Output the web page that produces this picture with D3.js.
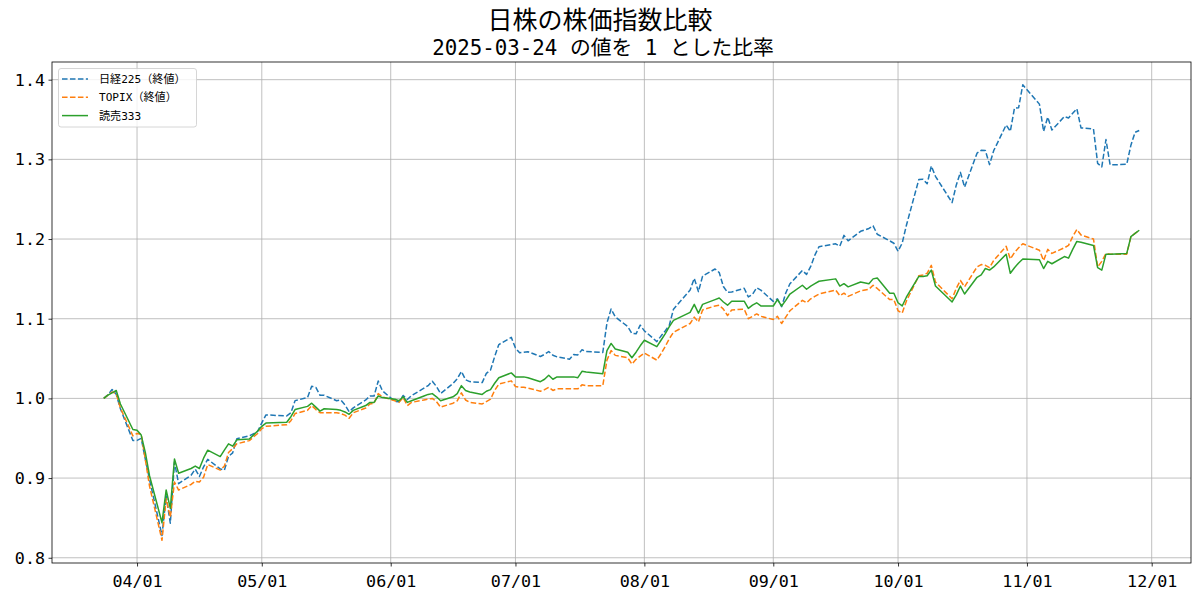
<!DOCTYPE html>
<html>
<head>
<meta charset="utf-8">
<script src="https://cdn.jsdelivr.net/npm/d3@7"></script>
<style>
  body { margin: 0; background: #fff; }
  text { font-family: "DejaVu Sans Mono", "Noto Sans CJK JP", monospace; fill: #000; text-spacing-trim: space-all; }
</style>
</head>
<body>
<div id="chart"></div>
<script>
// trading days (2025)
var days = [
  "03-24","03-25","03-26","03-27","03-28","03-31",
  "04-01","04-02","04-03","04-04","04-07","04-08","04-09","04-10","04-11","04-14","04-15","04-16","04-17","04-18","04-21","04-22","04-23","04-24","04-25","04-28","04-30",
  "05-01","05-02","05-07","05-08","05-09","05-12","05-13","05-14","05-15","05-16","05-19","05-20","05-21","05-22","05-23","05-26","05-27","05-28","05-29","05-30",
  "06-02","06-03","06-04","06-05","06-06","06-09","06-10","06-11","06-12","06-13","06-16","06-17","06-18","06-19","06-20","06-23","06-24","06-25","06-26","06-27","06-30",
  "07-01","07-02","07-03","07-04","07-07","07-08","07-09","07-10","07-11","07-14","07-15","07-16","07-17","07-18","07-22","07-23","07-24","07-25","07-28","07-29","07-30","07-31",
  "08-01","08-04","08-05","08-06","08-07","08-08","08-12","08-13","08-14","08-15","08-18","08-19","08-20","08-21","08-22","08-25","08-26","08-27","08-28","08-29",
  "09-01","09-02","09-03","09-04","09-05","09-08","09-09","09-10","09-11","09-12","09-16","09-17","09-18","09-19","09-22","09-24","09-25","09-26","09-29","09-30",
  "10-01","10-02","10-03","10-06","10-07","10-08","10-09","10-10","10-14","10-15","10-16","10-17","10-20","10-21","10-22","10-23","10-24","10-27","10-28","10-29","10-30","10-31",
  "11-04","11-05","11-06","11-07","11-10","11-11","11-12","11-13","11-14","11-17","11-18","11-19","11-20","11-21","11-25","11-26","11-27","11-28"
];

var nikkei = [
  1.0000,1.0046,1.0111,1.0051,0.9870,0.9471,
  0.9473,0.9499,0.9236,0.8982,0.8279,0.8778,0.8433,0.9202,0.8930,0.9036,0.9112,0.9019,0.9141,0.9235,0.9115,0.9099,0.9271,0.9317,0.9494,0.9530,0.9584,
  0.9693,0.9793,0.9780,0.9819,0.9972,1.0010,1.0153,1.0138,1.0039,1.0039,0.9971,0.9979,0.9918,0.9834,0.9881,0.9980,1.0031,1.0030,1.0219,1.0095,
  0.9963,0.9957,1.0037,0.9986,1.0035,1.0128,1.0160,1.0216,1.0150,1.0060,1.0187,1.0247,1.0339,1.0234,1.0211,1.0198,1.0314,1.0355,1.0525,1.0676,1.0766,
  1.0632,1.0573,1.0579,1.0586,1.0526,1.0553,1.0588,1.0542,1.0521,1.0492,1.0550,1.0546,1.0610,1.0588,1.0576,1.0947,1.1122,1.1023,1.0901,1.0815,1.0810,1.0920,
  1.0848,1.0713,1.0782,1.0847,1.0918,1.1120,1.1359,1.1507,1.1340,1.1534,1.1624,1.1579,1.1404,1.1330,1.1336,1.1382,1.1273,1.1306,1.1388,1.1359,
  1.1218,1.1250,1.1151,1.1322,1.1439,1.1605,1.1556,1.1656,1.1799,1.1904,1.1940,1.1910,1.2046,1.1978,1.2097,1.2133,1.2166,1.2060,1.1977,1.1947,
  1.1846,1.1949,1.2170,1.2748,1.2750,1.2693,1.2917,1.2787,1.2457,1.2676,1.2837,1.2652,1.3078,1.3113,1.3111,1.2934,1.3109,1.3431,1.3353,1.3643,1.3648,1.3936,
  1.3693,1.3351,1.3530,1.3368,1.3537,1.3519,1.3578,1.3636,1.3395,1.3381,1.2950,1.2906,1.3248,1.2930,1.2938,1.3178,1.3339,1.3362
];

var topix = [
  1.000,1.004,1.008,1.006,0.988,0.953,
  0.956,0.955,0.923,0.890,0.822,0.874,0.851,0.895,0.885,0.892,0.896,0.895,0.901,0.917,0.910,0.915,0.932,0.937,0.943,0.947,0.956,
  0.962,0.965,0.967,0.972,0.981,0.985,0.991,0.986,0.982,0.982,0.982,0.981,0.979,0.975,0.982,0.988,0.993,0.994,1.006,1.002,
  0.997,0.995,1.001,0.991,0.995,0.998,0.999,1.000,0.996,0.989,0.994,0.997,1.007,0.998,0.995,0.993,0.996,0.999,1.010,1.018,1.022,
  1.015,1.014,1.014,1.013,1.009,1.011,1.014,1.010,1.012,1.012,1.012,1.012,1.017,1.016,1.016,1.048,1.060,1.054,1.051,1.043,1.049,1.053,
  1.057,1.048,1.056,1.065,1.075,1.083,1.094,1.102,1.096,1.111,1.116,1.117,1.112,1.104,1.111,1.112,1.100,1.103,1.106,1.103,
  1.099,1.103,1.094,1.102,1.110,1.123,1.120,1.125,1.128,1.131,1.136,1.129,1.132,1.128,1.135,1.137,1.142,1.138,1.124,1.124,
  1.110,1.107,1.122,1.154,1.155,1.157,1.167,1.146,1.125,1.138,1.148,1.140,1.165,1.168,1.167,1.164,1.173,1.191,1.175,1.183,1.189,1.194,
  1.186,1.173,1.187,1.182,1.189,1.192,1.203,1.212,1.205,1.200,1.165,1.172,1.182,1.181,1.181,1.203,1.207,1.211
];

var yomiuri = [
  1.000,1.004,1.007,1.010,0.993,0.961,
  0.960,0.954,0.932,0.903,0.844,0.885,0.862,0.924,0.906,0.912,0.915,0.912,0.925,0.935,0.927,0.935,0.943,0.940,0.948,0.949,0.959,
  0.965,0.969,0.970,0.977,0.986,0.990,0.994,0.989,0.984,0.987,0.986,0.985,0.983,0.980,0.985,0.991,0.995,0.995,1.003,1.001,
  0.999,0.997,1.002,0.995,0.997,1.003,1.005,1.006,1.002,0.997,1.002,1.006,1.016,1.010,1.008,1.005,1.009,1.011,1.019,1.026,1.032,
  1.027,1.027,1.027,1.026,1.021,1.024,1.029,1.024,1.027,1.027,1.027,1.026,1.034,1.033,1.031,1.060,1.069,1.062,1.058,1.051,1.058,1.066,
  1.073,1.065,1.073,1.081,1.090,1.098,1.108,1.118,1.107,1.118,1.124,1.126,1.121,1.117,1.122,1.122,1.113,1.117,1.120,1.116,
  1.116,1.124,1.116,1.123,1.131,1.142,1.137,1.141,1.144,1.147,1.150,1.141,1.144,1.140,1.146,1.144,1.150,1.151,1.132,1.132,
  1.120,1.116,1.127,1.153,1.153,1.154,1.161,1.141,1.121,1.130,1.141,1.131,1.152,1.155,1.163,1.161,1.165,1.181,1.157,1.164,1.170,1.175,
  1.174,1.163,1.172,1.169,1.178,1.176,1.187,1.197,1.196,1.192,1.164,1.161,1.181,1.181,1.182,1.203,1.207,1.211
];

var seriesNames = ["日経225（終値）", "TOPIX（終値）", "読売333"];
var seriesColors = ["#1f77b4", "#ff7f0e", "#2ca02c"];
var seriesDash = ["5.55,2.4", "5.55,2.4", null];
var yTicks = [0.8, 0.9, 1.0, 1.1, 1.2, 1.3, 1.4];
var title = "日株の株価指数比較";
var subtitle = "2025-03-24 の値を 1 とした比率";

var width = 1200, height = 600;
var margin = { top: 62, right: 9, bottom: 37, left: 52 };
var innerW = width - margin.left - margin.right,
    innerH = height - margin.top - margin.bottom;

var parse = d3.timeParse("%Y-%m-%d");
var dates = days.map(d => parse("2025-" + d));

var allSeries = [nikkei, topix, yomiuri].map(function(vals, i) {
    return {
        name: seriesNames[i],
        color: seriesColors[i],
        dash: seriesDash[i],
        points: vals.map((v, j) => ({ date: dates[j], value: v }))
    };
});

// matplotlib style 5% margins
var xExt = d3.extent(dates);
var xPad = (xExt[1] - xExt[0]) * 0.05;
var x = d3.scaleTime()
    .domain([new Date(+xExt[0] - xPad), new Date(+xExt[1] + xPad)])
    .range([0, innerW]);

var allVals = nikkei.concat(topix, yomiuri);
var yExt = d3.extent(allVals);
var yPad = (yExt[1] - yExt[0]) * 0.05;
var y = d3.scaleLinear()
    .domain([yExt[0] - yPad, yExt[1] + yPad])
    .range([innerH, 0]);

var svg = d3.select("#chart").append("svg")
    .attr("width", width)
    .attr("height", height);

svg.append("text")
    .attr("x", 600).attr("y", 28.5)
    .attr("text-anchor", "middle")
    .style("font-size", "25px")
    .text(title);

svg.append("text")
    .attr("x", 603).attr("y", 55)
    .attr("text-anchor", "middle")
    .style("font-size", "20.8px")
    .text(subtitle);

var g = svg.append("g")
    .attr("transform", "translate(" + margin.left + "," + margin.top + ")");

var monthTicks = d3.timeMonth.range(new Date(2025, 3, 1), new Date(2025, 11, 2));

// grid
g.append("g").selectAll("line.vg")
    .data(monthTicks)
    .join("line")
    .attr("x1", d => x(d)).attr("x2", d => x(d))
    .attr("y1", 0).attr("y2", innerH)
    .attr("stroke", "#b0b0b0").attr("stroke-width", 0.8);

g.append("g").selectAll("line.hg")
    .data(yTicks)
    .join("line")
    .attr("x1", 0).attr("x2", innerW)
    .attr("y1", d => y(d)).attr("y2", d => y(d))
    .attr("stroke", "#b0b0b0").attr("stroke-width", 0.8);

// lines
var line = d3.line()
    .x(d => x(d.date))
    .y(d => y(d.value));

g.append("g").selectAll("path")
    .data(allSeries)
    .join("path")
    .attr("d", d => line(d.points))
    .attr("fill", "none")
    .attr("stroke", d => d.color)
    .attr("stroke-width", 1.5)
    .attr("stroke-dasharray", d => d.dash)
    .attr("stroke-linejoin", "round");

// axes
var xAxis = g.append("g")
    .attr("transform", "translate(0," + innerH + ")")
    .call(d3.axisBottom(x).tickValues(monthTicks).tickFormat(d3.timeFormat("%m/%d")).tickSize(3.5).tickPadding(3.5));

var yAxis = g.append("g")
    .call(d3.axisLeft(y).tickValues(yTicks).tickFormat(d3.format(".1f")).tickSize(3.5).tickPadding(3.5));

[xAxis, yAxis].forEach(function(a) {
    a.select(".domain").remove();
    a.selectAll(".tick line").attr("stroke", "#000").attr("stroke-width", 0.8);
    a.selectAll(".tick text")
        .style("font-size", "16.7px")
        .attr("font-family", null);
    a.attr("font-family", null).attr("font-size", null);
});
xAxis.selectAll(".tick text").attr("dy", "1em");

g.append("rect")
    .attr("width", innerW).attr("height", innerH)
    .attr("fill", "none")
    .attr("stroke", "#000")
    .attr("stroke-width", 0.8);

// legend
var legend = g.append("g").attr("transform", "translate(6.5,6.5)");

legend.append("rect")
    .attr("width", 138).attr("height", 58.5)
    .attr("rx", 2.5)
    .attr("fill", "#fff").attr("fill-opacity", 0.8)
    .attr("stroke", "#cccccc").attr("stroke-width", 0.8);

var item = legend.selectAll("g.item")
    .data(allSeries)
    .join("g")
    .attr("transform", (d, i) => "translate(0," + (10.5 + i * 18.3) + ")");

item.append("line")
    .attr("x1", 3.5).attr("x2", 29.5)
    .attr("stroke", d => d.color)
    .attr("stroke-width", 1.5)
    .attr("stroke-dasharray", d => d.dash);

item.append("text")
    .attr("x", 40.5).attr("y", 4)
    .style("font-size", "11.1px")
    .text(d => d.name);
</script>
</body>
</html>
